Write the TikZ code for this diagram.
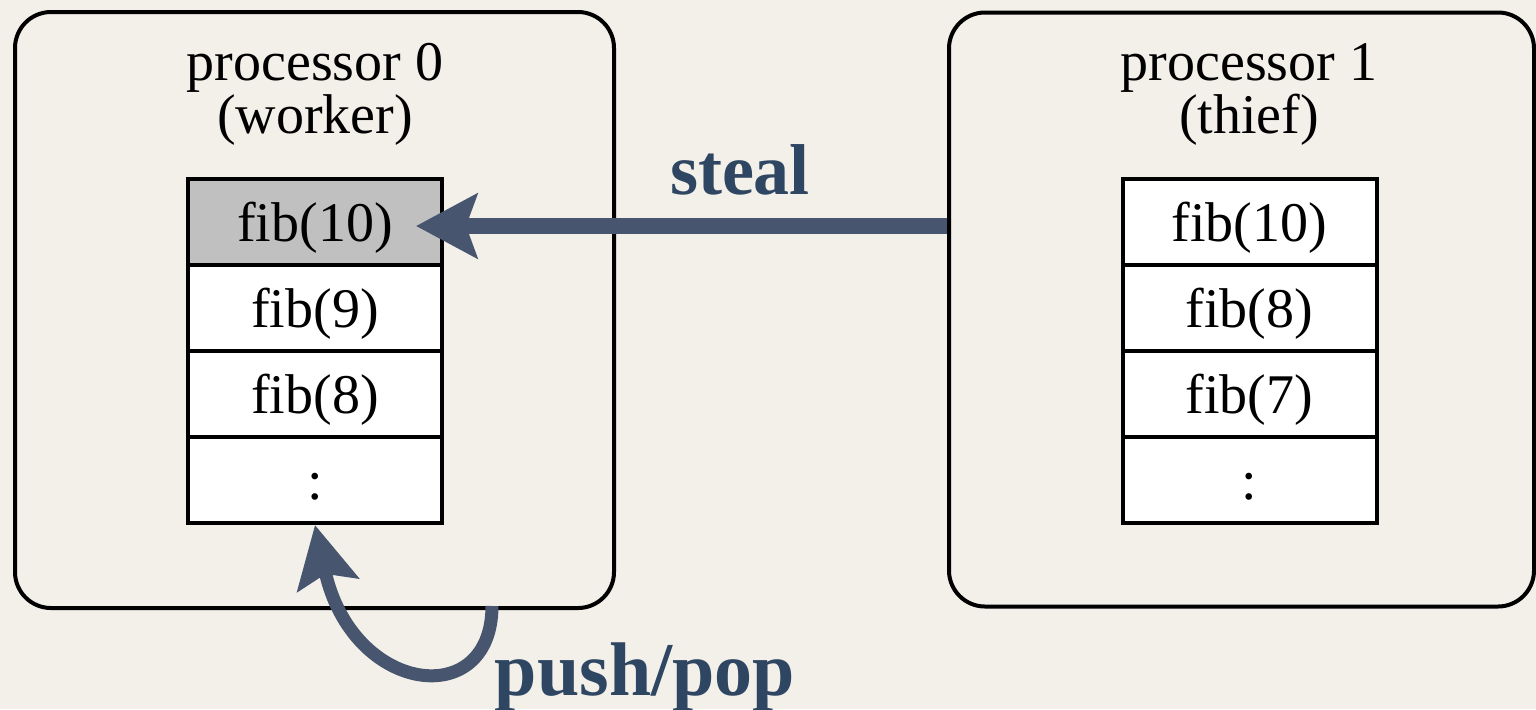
\documentclass[tikz,border=0pt]{standalone}
\usepackage{fontspec}
\setmainfont{Liberation Serif}
\usetikzlibrary{arrows.meta}
\definecolor{bgpaper}{RGB}{243,240,234}
\definecolor{arrowcol}{RGB}{72,85,110}
\definecolor{labelcol}{RGB}{47,70,98}
\definecolor{topcell}{RGB}{192,192,192}
\tikzset{
  procbox/.style={draw=black, line width=2pt, rounded corners=18pt, rectangle, inner sep=0pt},
  cellbox/.style={draw=black, fill=white, line width=2pt, rectangle, minimum width=127pt, minimum height=43pt, inner sep=0pt, text height=23.8pt, text depth=4.2pt, font=\fontsize{28}{28}\selectfont},
  titletext/.style={align=center, font=\fontsize{28}{26.5}\selectfont, inner sep=0pt},
  actlabel/.style={text=labelcol, font=\fontsize{36}{36}\selectfont\bfseries, inner sep=0pt},
  bigarrow/.style={draw=arrowcol, line width=8pt, -{Stealth[length=30.5pt, width=32pt, inset=5.5pt]}},
  curvearrow/.style={draw=arrowcol, line width=6.5pt, -{Stealth[length=30.5pt, width=31pt, inset=5.5pt]}}
}
\begin{document}
\begin{tikzpicture}[x=0.5pt, y=-0.5pt]
  \fill[bgpaper] (0,0) rectangle (1536,709);
  \useasboundingbox (0,0) rectangle (1536,709);
  % processor boxes
  \node[procbox, minimum width=299.5pt, minimum height=298pt] (P0) at (314.5,310) {};
  \node[procbox, minimum width=292.5pt, minimum height=297pt] (P1) at (1241.5,309.5) {};
  % titles
  \node[titletext] (T0) at (315,94) {processor 0\\(worker)};
  \node[titletext] (T1) at (1249,94) {processor 1\\(thief)};
  % left stack
  \node[cellbox, fill=topcell] (L1) at (315,222) {fib(10)};
  \node[cellbox] (L2) at (315,308) {fib(9)};
  \node[cellbox] (L3) at (315,394) {fib(8)};
  \node[cellbox] (L4) at (315,480) {:};
  % right stack
  \node[cellbox] (R1) at (1249.5,222) {fib(10)};
  \node[cellbox] (R2) at (1249.5,308) {fib(8)};
  \node[cellbox] (R3) at (1249.5,394) {fib(7)};
  \node[cellbox] (R4) at (1249.5,480) {:};
  % steal arrow
  \coordinate (stealtip) at ([xshift=-14pt, yshift=-2pt]L1.east);
  \draw[bigarrow] (P1.west |- stealtip) -- (stealtip);
  \node[actlabel] (steal) at (740,170) {steal};
  % push/pop arrow
  \coordinate (pstart) at (492,606);
  \draw[curvearrow] (pstart) .. controls (492,712) and (352,695) .. (L4.south);
  \node[actlabel, font=\fontsize{38}{38}\selectfont\bfseries, anchor=base] (pushpop) at (645,695) {push/pop};
\end{tikzpicture}
\end{document}
